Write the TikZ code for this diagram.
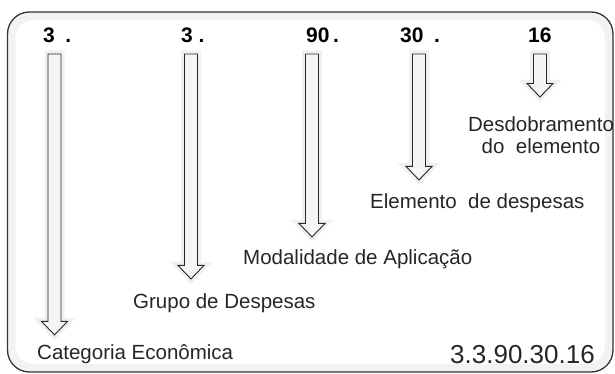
\documentclass[tikz,border=0pt]{standalone}
\usepackage{fontspec}
\setmainfont{Liberation Sans}
\usetikzlibrary{calc}

\newcommand{\blockarrow}[3]{
  \draw[block arrow] let \p1=(#1), \p2=(#2.north) in
    (\x1-6.5pt,\y1) -- (\x1+6.5pt,\y1) -- (\x1+6.5pt,\y2+#3pt+13.5pt)
    -- (\x1+13pt,\y2+#3pt+13.5pt) -- (\x1,\y2+#3pt)
    -- (\x1-13pt,\y2+#3pt+13.5pt) -- (\x1-6.5pt,\y2+#3pt+13.5pt) -- cycle;
}

\begin{document}
\begin{tikzpicture}[
    x=1pt, y=-1pt,
    frame/.style={draw=black!80, line width=1.3pt, rounded corners=22pt},
    digit text/.style={inner sep=0pt, anchor=base west, font=\fontsize{21}{24}\selectfont\bfseries},
    label text/.style={inner sep=0pt, anchor=base west, text=black!85, font=\fontsize{20.5}{22}\selectfont},
    code text/.style={inner sep=0pt, anchor=base west, text=black!85, font=\fontsize{26}{30}\selectfont},
    block arrow/.style={draw=black!85, fill=black!4, line width=0.9pt, line join=miter,
      preaction={draw=black, opacity=.06, line width=7pt}}
]
\useasboundingbox (0,0) rectangle (615,374);
\draw[black, opacity=.05, line width=8pt, rounded corners=22pt] (11.5,16) rectangle (609,368);
\draw[frame] (7.5,12) rectangle (613,372);

\node[digit text] (n1) at (43,43) {3\enspace.};
\node[digit text] (n2) at (181,43) {3 .};
\node[digit text] (n3) at (306,43) {90\,.};
\node[digit text] (n4) at (400,43) {30\enspace.};
\node[digit text] (n5) at (528,43) {16};

\node[label text] (cat) at (37,359) {Categoria Econômica};
\node[label text] (grp) at (133,308) {Grupo de Despesas};
\node[label text] (mod) at (243,264) {Modalidade de Aplicação};
\node[label text] (ele) at (370,208) {Elemento\ \ de despesas};
\node[label text, anchor=north, align=center] (des) at (541,116) {Desdobramento\\do\ \ elemento};
\node[code text] (code) at (450,363) {3.3.90.30.16};

\coordinate (t1) at (54.5,54);
\coordinate (t2) at (191,54);
\coordinate (t3) at (312,54);
\coordinate (t4) at (419,54);
\coordinate (t5) at (540,54);

\blockarrow{t1}{cat}{9}
\blockarrow{t2}{grp}{14}
\blockarrow{t3}{mod}{12}
\blockarrow{t4}{ele}{13}
\blockarrow{t5}{des}{19}
\end{tikzpicture}
\end{document}
